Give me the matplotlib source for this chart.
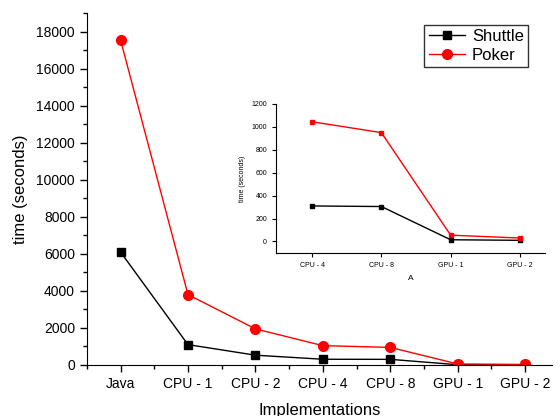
import matplotlib.pyplot as plt
from matplotlib.ticker import MultipleLocator

plt.rcParams['font.family'] = ['Liberation Sans', 'DejaVu Sans']

impls = ['Java', 'CPU - 1', 'CPU - 2', 'CPU - 4', 'CPU - 8', 'GPU - 1', 'GPU - 2']
shuttle = [6100, 1100, 530, 310, 305, 15, 10]
poker = [17550, 3800, 1950, 1045, 950, 55, 30]

inset_impls = ['CPU - 4', 'CPU - 8', 'GPU - 1', 'GPU - 2']
inset_shuttle = [310, 305, 15, 10]
inset_poker = [1045, 950, 55, 30]

fig = plt.figure(figsize=(5.6, 4.16), dpi=100)
ax = fig.add_axes([0.155, 0.1226, 0.831, 0.846])

x = list(range(len(impls)))
ax.plot(x, shuttle, color='black', marker='s', markersize=6, lw=1, label='Shuttle')
ax.plot(x, poker, color='red', marker='o', markersize=7, lw=1, label='Poker')

ax.set_xlim(-0.5, 6.4)
ax.set_ylim(0, 19000)
ax.set_xticks(x)
ax.set_xticklabels(impls)
ax.xaxis.set_minor_locator(MultipleLocator(0.5))
ax.yaxis.set_major_locator(MultipleLocator(2000))
ax.yaxis.set_minor_locator(MultipleLocator(1000))
ax.tick_params(labelsize=10, length=5, width=1)
ax.tick_params(which='minor', length=3, width=1)
for s in ['top', 'right']:
    ax.spines[s].set_visible(False)
ax.set_xlabel('Implementations', fontsize=12, labelpad=9)
ax.set_ylabel('time (seconds)', fontsize=12, labelpad=6)

leg = ax.legend(loc='upper right', bbox_to_anchor=(0.966, 0.99), fontsize=12,
                fancybox=False, edgecolor='black', handlelength=2.2,
                borderpad=0.25, labelspacing=0.25, handletextpad=0.4)
leg.get_frame().set_linewidth(1)

ins = fig.add_axes([0.493, 0.392, 0.48, 0.358])
xi = list(range(len(inset_impls)))
ins.plot(xi, inset_shuttle, color='black', marker='s', markersize=3.5, lw=1)
ins.plot(xi, inset_poker, color='red', marker='s', markersize=3.5, lw=1)
ins.set_xlim(-0.52, 3.36)
ins.set_ylim(-100, 1200)
ins.set_xticks(xi)
ins.set_xticklabels(inset_impls)
ins.xaxis.set_minor_locator(MultipleLocator(0.5))
ins.yaxis.set_major_locator(MultipleLocator(200))
ins.yaxis.set_minor_locator(MultipleLocator(100))
ins.tick_params(labelsize=5, length=3, width=0.8)
ins.tick_params(which='minor', length=0)
for s in ['top', 'right']:
    ins.spines[s].set_visible(False)
for s in ['left', 'bottom']:
    ins.spines[s].set_linewidth(0.8)
ins.set_xlabel('A', fontsize=6, labelpad=4)
ins.set_ylabel('time (seconds)', fontsize=5)

fig.savefig('out.png', dpi=100)
